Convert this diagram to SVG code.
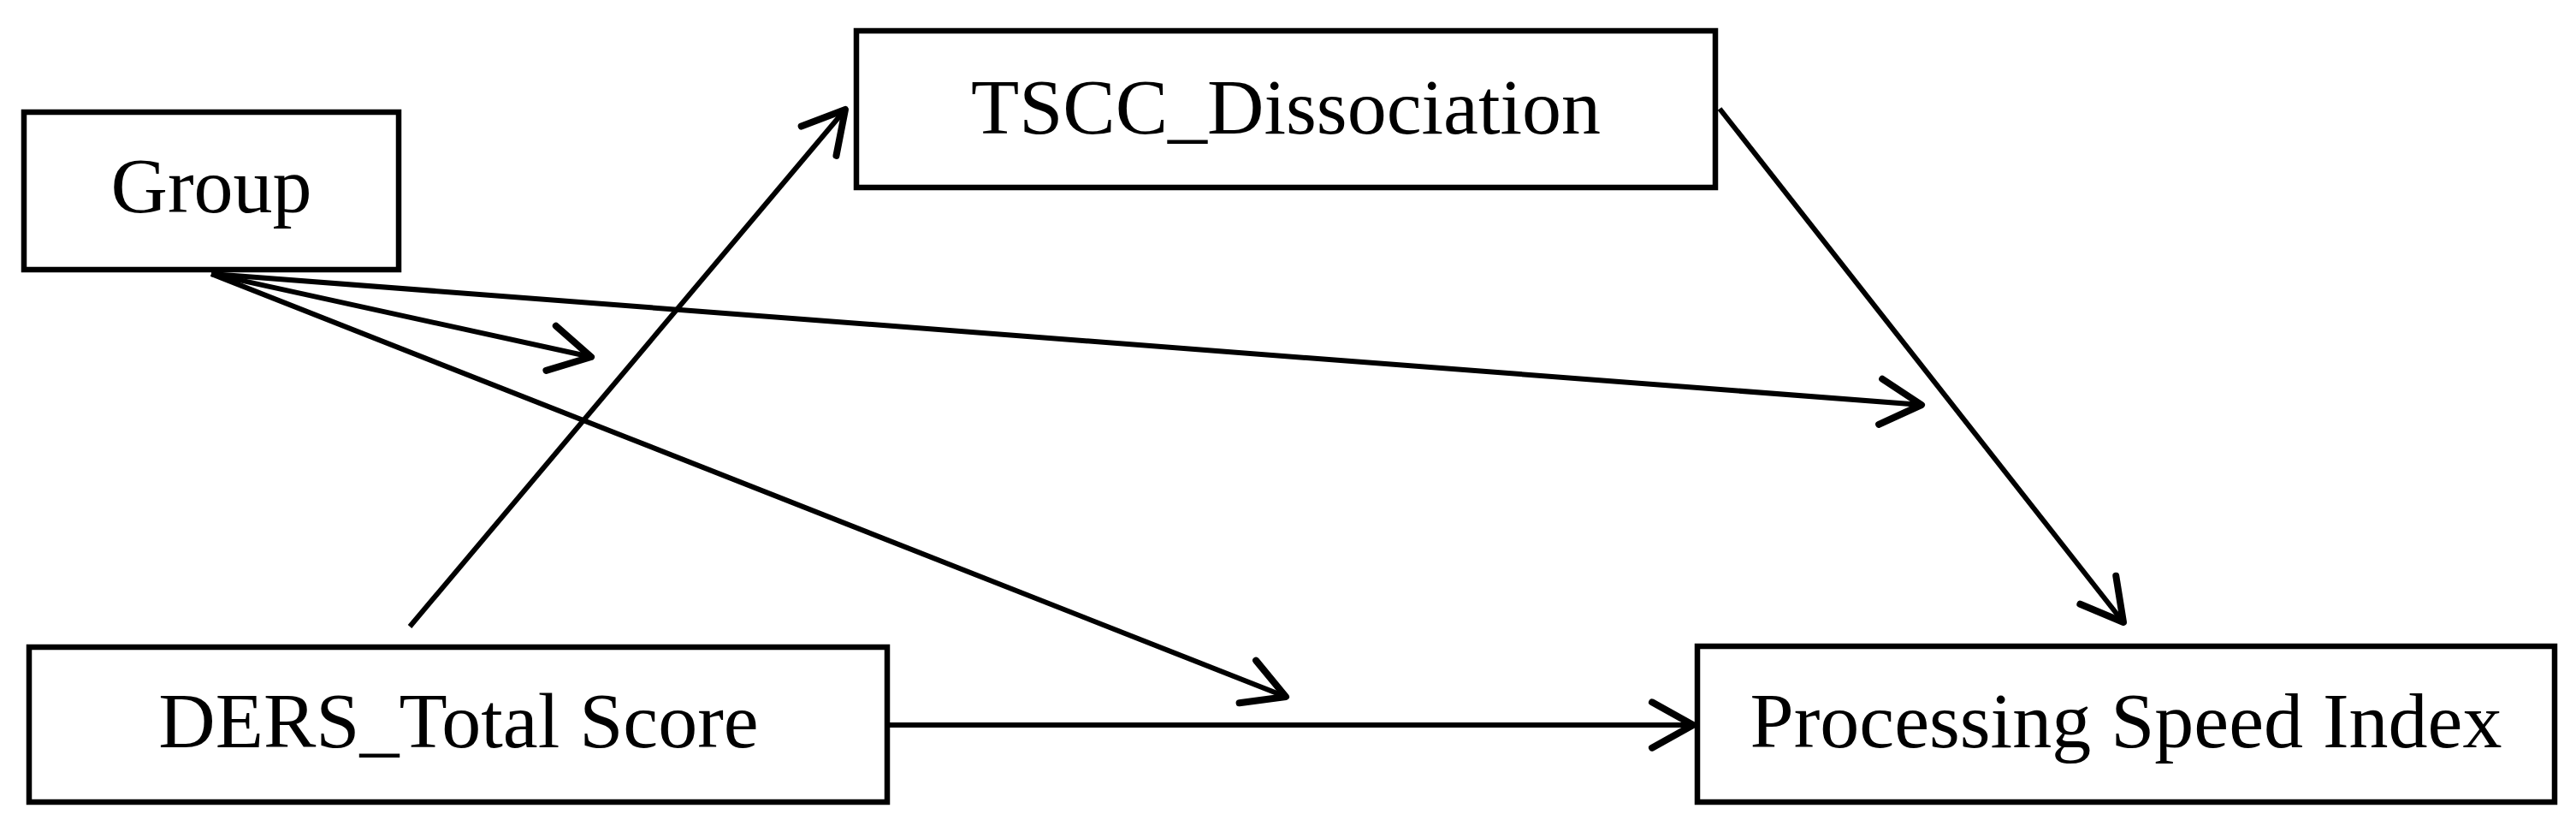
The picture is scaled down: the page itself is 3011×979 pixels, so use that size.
<svg xmlns="http://www.w3.org/2000/svg" width="3011" height="979" viewBox="0 0 3011 979">
<style>
.box{fill:#fff;stroke:#000;stroke-width:6.5}
.lbl{font-family:"Liberation Serif","Times New Roman",serif;font-size:92px;fill:#000;text-anchor:middle}
.edge{stroke:#000;stroke-width:6;fill:none;marker-end:url(#arr)}
</style>
<defs>
<marker id="arr" markerUnits="userSpaceOnUse" markerWidth="80" markerHeight="80" viewBox="-50 -30 60 60" refX="0" refY="0" orient="auto" overflow="visible">
<path d="M-36,-20 L0,0 L-36,20" fill="none" stroke="#000" stroke-width="6" stroke-linecap="round" stroke-linejoin="round"/>
</marker>
</defs>
<rect width="3011" height="979" fill="#fff"/>
<g id="connectors">
<line class="edge" x1="247" y1="320" x2="691" y2="417"/>
<line class="edge" x1="247" y1="320" x2="2246" y2="473"/>
<line class="edge" x1="247" y1="320" x2="1503" y2="814"/>
<line class="edge" x1="479" y1="732" x2="988" y2="128"/>
<line class="edge" x1="2010" y1="127" x2="2482" y2="727"/>
<line class="edge" x1="1040" y1="847" x2="1979" y2="847"/>
</g>
<g id="node-group">
<rect class="box" x="28" y="131" width="438" height="184"/>
<text class="lbl" x="247" y="248">Group</text>
</g>
<g id="node-tscc">
<rect class="box" x="1001" y="36" width="1004" height="183"/>
<text class="lbl" x="1503" y="156">TSCC_Dissociation</text>
</g>
<g id="node-ders">
<rect class="box" x="34" y="756" width="1003" height="181"/>
<text class="lbl" x="536" y="873">DERS_Total Score</text>
</g>
<g id="node-psi">
<rect class="box" x="1984" y="755" width="1002" height="182"/>
<text class="lbl" x="2485" y="873">Processing Speed Index</text>
</g>
</svg>
